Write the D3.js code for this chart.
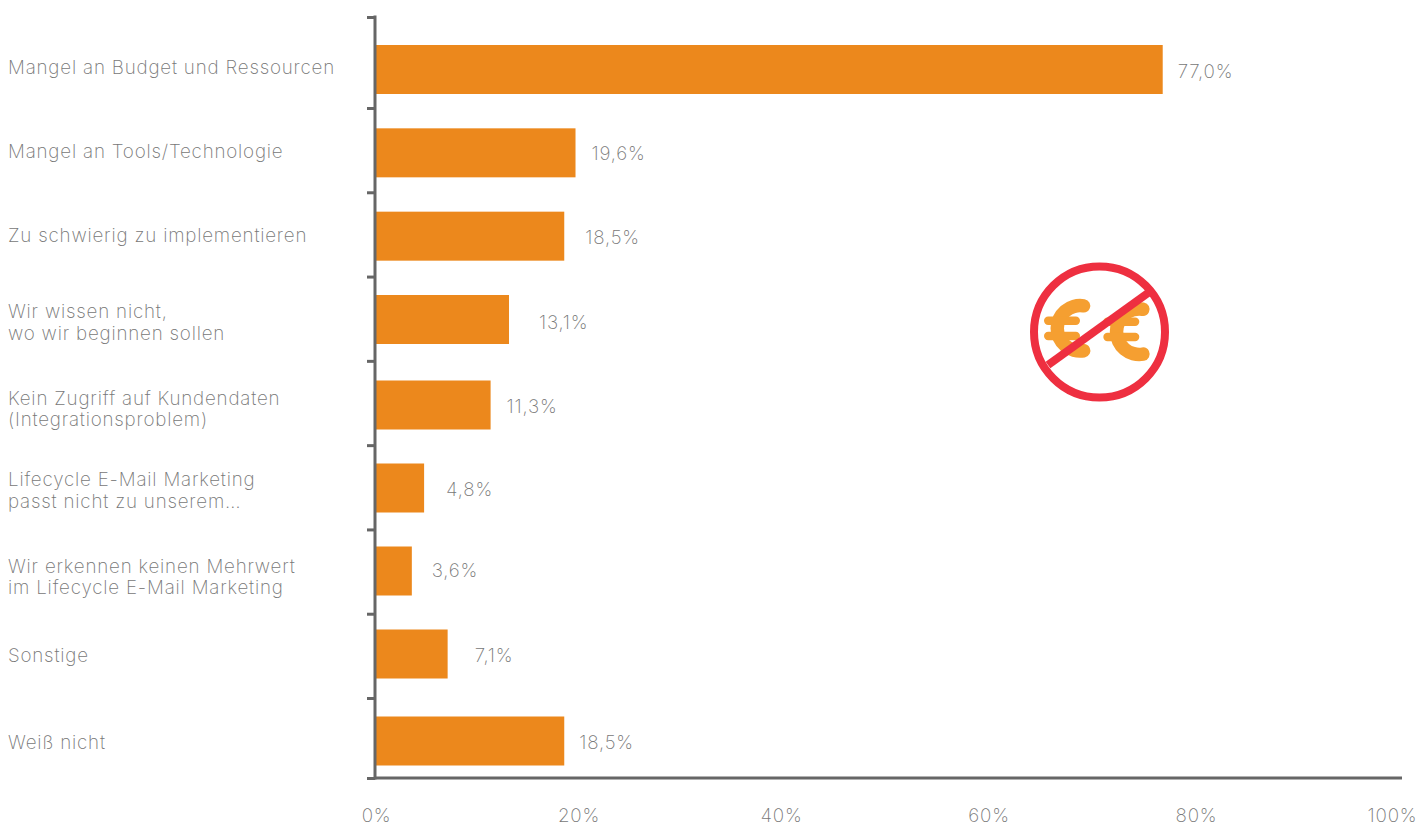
<!DOCTYPE html>
<html lang="de">
<head>
<meta charset="utf-8">
<script src="https://cdn.jsdelivr.net/npm/d3@7"></script>
<style>
  html, body { margin: 0; background: #fff; }
  svg { display: block; }
  text { font-family: Inter, "Open Sans", sans-serif; font-weight: 250; fill: #777777; font-size: 18.8px; letter-spacing: 0.8px; }
</style>
</head>
<body>
<svg id="chart" width="1419" height="827"></svg>
<script>
// Hurdles named for lifecycle e-mail marketing, share of respondents in percent.
const categories = [
  ["Mangel an Budget und Ressourcen"],
  ["Mangel an Tools/Technologie"],
  ["Zu schwierig zu implementieren"],
  ["Wir wissen nicht,", "wo wir beginnen sollen"],
  ["Kein Zugriff auf Kundendaten", "(Integrationsproblem)"],
  ["Lifecycle E-Mail Marketing", "passt nicht zu unserem…"],
  ["Wir erkennen keinen Mehrwert", "im Lifecycle E-Mail Marketing"],
  ["Sonstige"],
  ["Weiß nicht"]
];
const values = [77.0, 19.6, 18.5, 13.1, 11.3, 4.8, 3.6, 7.1, 18.5];
const axisTicks = [0, 20, 40, 60, 80, 100];

// Hand placement of the labels relative to each bar.
const valueGaps = [15, 16, 21, 30, 16, 22, 20, 27, 15];
const valueShifts = [0, -1, 0, 1, 0, 0, -2, 0, 0];
const categoryShifts = [-1, 0, 1, 1.5, 2.5, 1, 4.5, 3, 3];

const svg = d3.select("#chart");
const barColor = "#ec881c";
const axisColor = "#666666";
const barHeight = 49;
const decimal = d3.format(".1f");

const x = d3.scaleLinear().domain([0, 100]).range([375, 1398]);
const xLabels = d3.scaleLinear().domain([0, 40, 80, 100]).range([376, 781, 1196, 1392]);
const rowCenter = d3.scaleLinear().domain([0, 3, 4, 7, 8]).range([69.5, 319.5, 405, 654, 741]);
const rowEdge = d3.scaleLinear().domain([0, 1, 8, 9]).range([17, 108, 698, 778]);

// Bars
svg.append("g").selectAll("rect").data(values).join("rect")
  .attr("x", x(0))
  .attr("y", (d, i) => rowCenter(i) - barHeight / 2)
  .attr("width", d => x(d) - x(0))
  .attr("height", barHeight)
  .attr("fill", barColor);

// Value labels
svg.append("g").selectAll("text").data(values).join("text")
  .attr("x", (d, i) => x(d) + valueGaps[i])
  .attr("y", (d, i) => rowCenter(i) + 8 + valueShifts[i])
  .text(d => decimal(d).replace(".", ",") + "%");

// Category labels, one or two lines
const rowLabels = svg.append("g").selectAll("text").data(categories).join("text")
  .attr("x", 8)
  .attr("y", (d, i) => rowCenter(i) + (d.length === 1 ? 5 : -3) + categoryShifts[i]);
rowLabels.selectAll("tspan").data(d => d).join("tspan")
  .attr("x", 8)
  .attr("dy", (d, i) => i ? 21.5 : 0)
  .text(d => d);

// Left axis with row separators
const yAxis = svg.append("g").attr("transform", `translate(${x(0)},0)`)
  .call(d3.axisLeft(rowEdge).tickValues(d3.range(categories.length + 1)).tickSize(8).tickFormat(""));
yAxis.select(".domain").remove();
yAxis.selectAll("line").attr("stroke", axisColor).attr("stroke-width", 3);
svg.append("line")
  .attr("x1", x(0)).attr("x2", x(0))
  .attr("y1", rowEdge(0) - 1.5).attr("y2", rowEdge(9) + 1.5)
  .attr("stroke", axisColor).attr("stroke-width", 3);
svg.append("line")
  .attr("x1", x(0)).attr("x2", 1402)
  .attr("y1", rowEdge(9)).attr("y2", rowEdge(9))
  .attr("stroke", axisColor).attr("stroke-width", 3);

// Bottom axis labels
const xAxis = svg.append("g").attr("transform", `translate(0,${rowEdge(9)})`)
  .call(d3.axisBottom(xLabels).tickValues(axisTicks).tickSize(0).tickPadding(30.5).tickFormat(d => d + "%"));
xAxis.select(".domain").remove();
xAxis.selectAll("text").attr("font-family", null).attr("font-size", null).attr("dy", "0.71em");

// "No budget" symbol: two euro signs under a struck-out circle
const icon = svg.append("g");
const euroArc = d3.arc().innerRadius(16).outerRadius(29.5).cornerRadius(6.7)
  .startAngle(2.68).endAngle(6.74);
[[1080, 328.3, 320.7, 336], [1139.3, 331.7, 321.7, 337]].forEach(([cx, cy, y1, y2]) => {
  const euro = icon.append("g").attr("fill", "#f59f31");
  euro.append("path")
    .attr("transform", `translate(${cx},${cy})`)
    .attr("d", euroArc());
  [y1, y2].forEach(y => euro.append("rect")
    .attr("x", cx - 36).attr("y", y - 4.2)
    .attr("width", 36).attr("height", 8.4).attr("rx", 4.2));
});
icon.append("circle")
  .attr("cx", 1099.5).attr("cy", 332).attr("r", 65.5)
  .attr("fill", "none").attr("stroke", "#ee2f40").attr("stroke-width", 8);
icon.append("line")
  .attr("x1", 1048).attr("y1", 365).attr("x2", 1148).attr("y2", 293)
  .attr("stroke", "#ee2f40").attr("stroke-width", 8);
</script>
</body>
</html>
